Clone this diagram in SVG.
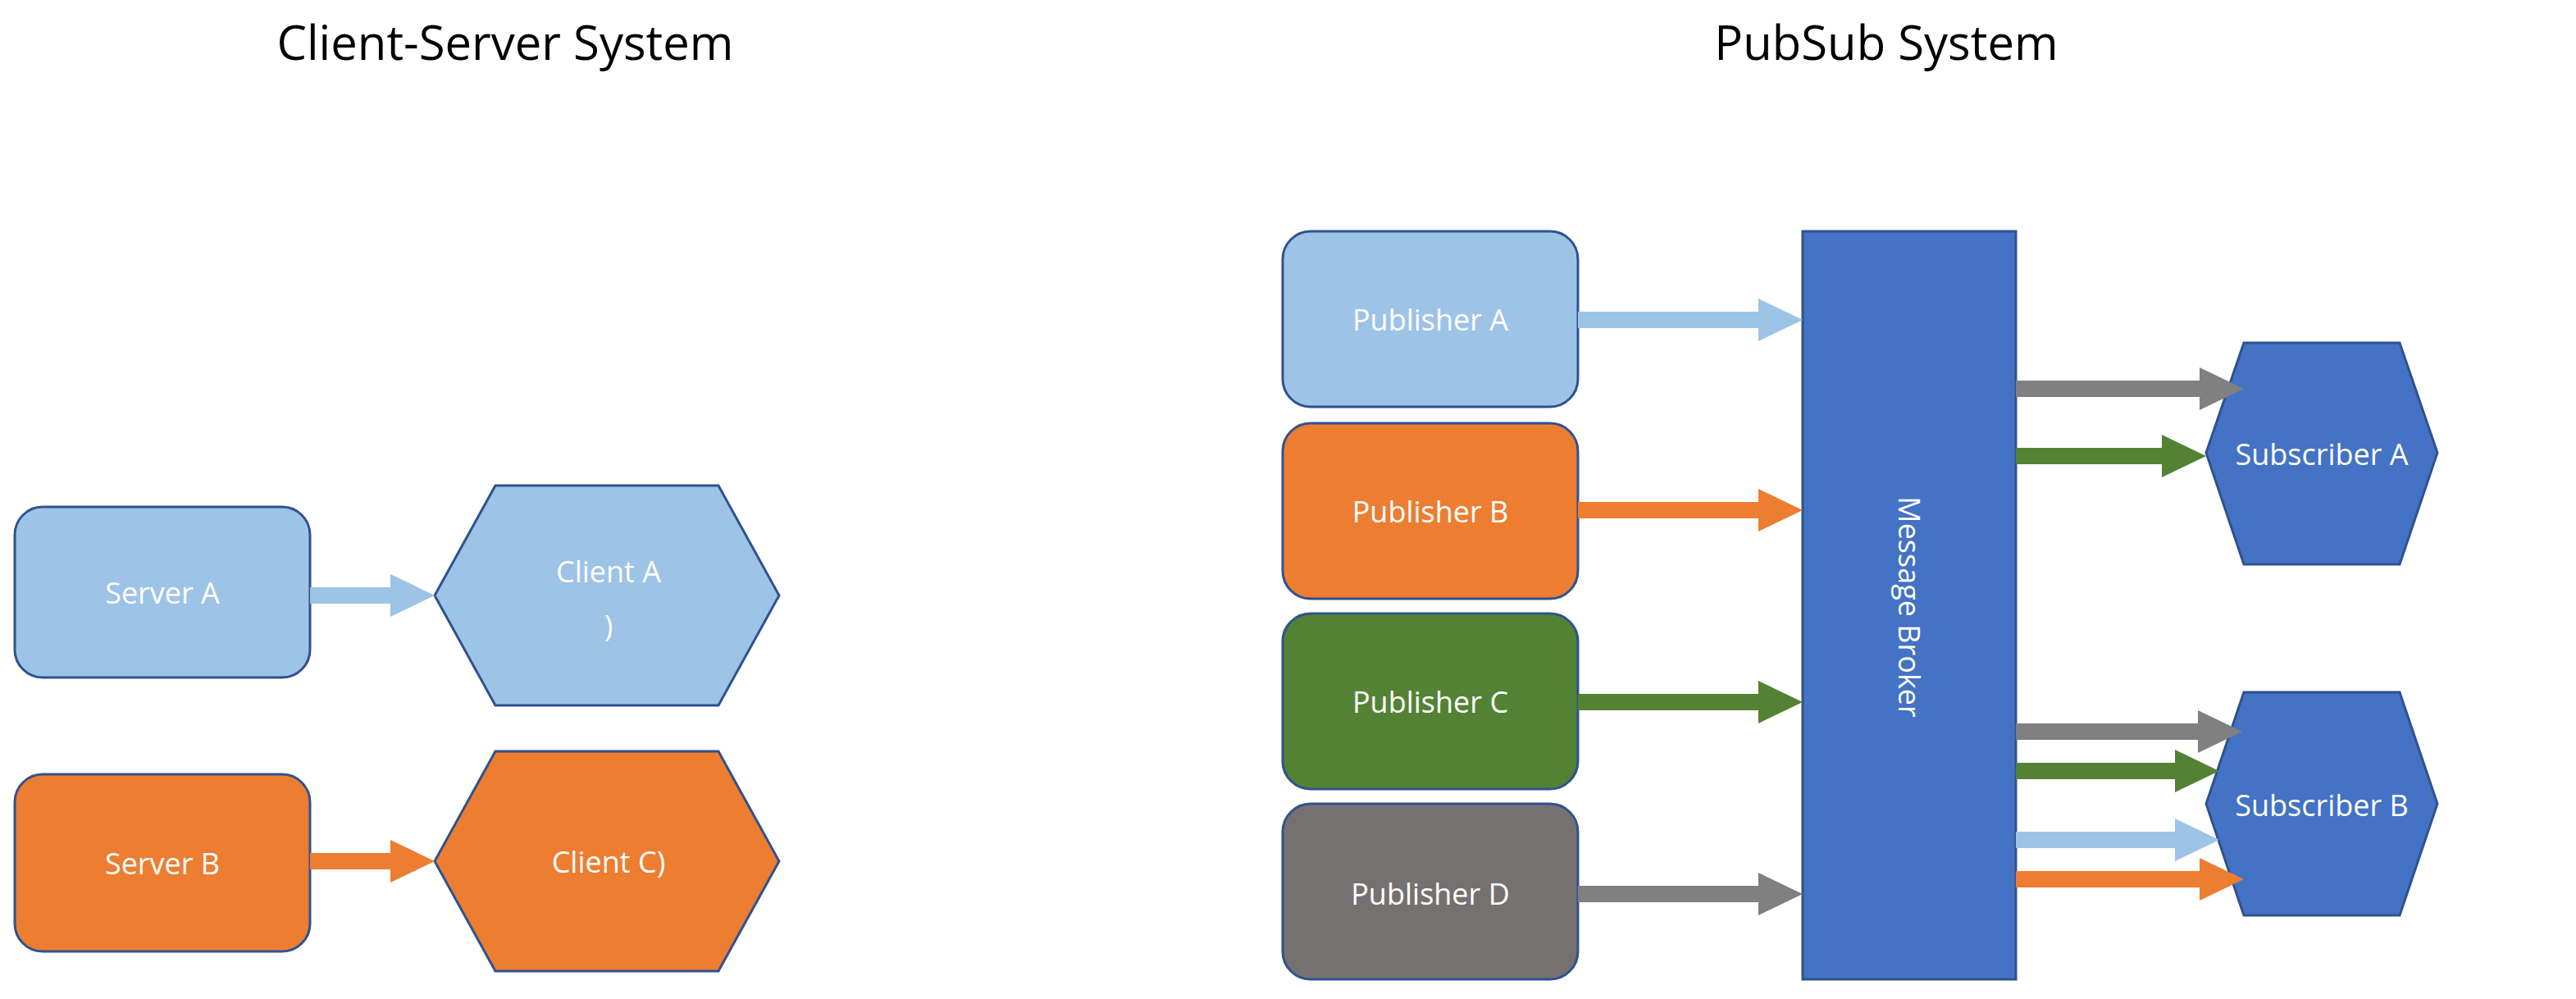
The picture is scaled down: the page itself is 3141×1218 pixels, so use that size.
<svg xmlns="http://www.w3.org/2000/svg" width="3141" height="1218" viewBox="0 0 3141 1218">
<style>
text{font-family:"Open Sans","Liberation Sans",sans-serif;fill:#fff;text-anchor:middle;dominant-baseline:central;font-size:36px}
.title{fill:#000;font-size:58px}
.n{stroke:#2F528F;stroke-width:3}
.lb{fill:#9DC3E6}.or{fill:#ED7D31}.gr{fill:#548235}.gy{fill:#767171}.bl{fill:#4472C4}.ag{fill:#808080}
</style>
<rect width="3141" height="1218" fill="#fff"/>
<text class="title" x="616" y="50">Client-Server System</text>
<text class="title" x="2300" y="50">PubSub System</text>
<g id="serverA"><rect class="n lb" x="18" y="618" width="360" height="208" rx="34"/><text x="198" y="722">Server A</text></g>
<g id="clientA"><polygon class="n lb" points="530,726 604,592 876,592 950,726 876,860 604,860"/><text x="742" y="696">Client A</text><text x="742" y="762">)</text></g>
<g id="serverB"><rect class="n or" x="18" y="944" width="360" height="216" rx="34"/><text x="198" y="1052">Server B</text></g>
<g id="clientC"><polygon class="n or" points="530,1050 604,916 876,916 950,1050 876,1184 604,1184"/><text x="742" y="1050">Client C)</text></g>
<g id="pubA"><rect class="n lb" x="1564" y="282" width="360" height="214" rx="34"/><text x="1744" y="389">Publisher A</text></g>
<g id="pubB"><rect class="n or" x="1564" y="516" width="360" height="214" rx="34"/><text x="1744" y="623">Publisher B</text></g>
<g id="pubC"><rect class="n gr" x="1564" y="748" width="360" height="214" rx="34"/><text x="1744" y="855">Publisher C</text></g>
<g id="pubD"><rect class="n gy" x="1564" y="980" width="360" height="214" rx="34"/><text x="1744" y="1089">Publisher D</text></g>
<g id="broker"><rect class="n bl" x="2198" y="282" width="260" height="912"/><text transform="translate(2328 740) rotate(90)">Message Broker</text></g>
<g id="subA"><polygon class="n bl" points="2690,552 2736,418 2926,418 2972,552 2926,688 2736,688"/><text x="2831" y="553">Subscriber A</text></g>
<g id="subB"><polygon class="n bl" points="2690,980 2736,844 2926,844 2972,980 2926,1116 2736,1116"/><text x="2831" y="981">Subscriber B</text></g>
<g id="connectors">
<polygon class="lb" points="378,716 476,716 476,700 530,726 476,752 476,736 378,736"/>
<polygon class="or" points="378,1040 476,1040 476,1024 530,1050 476,1076 476,1060 378,1060"/>
<polygon class="lb" points="1924,380 2144,380 2144,364 2198,390 2144,416 2144,400 1924,400"/>
<polygon class="or" points="1924,612 2144,612 2144,596 2198,622 2144,648 2144,632 1924,632"/>
<polygon class="gr" points="1924,846 2144,846 2144,830 2198,856 2144,882 2144,866 1924,866"/>
<polygon class="ag" points="1924,1080 2144,1080 2144,1064 2198,1090 2144,1116 2144,1100 1924,1100"/>
<polygon class="ag" points="2458,464 2682,464 2682,448 2736,474 2682,500 2682,484 2458,484"/>
<polygon class="gr" points="2458,546 2636,546 2636,530 2690,556 2636,582 2636,566 2458,566"/>
<polygon class="ag" points="2458,882 2680,882 2680,866 2734,892 2680,918 2680,902 2458,902"/>
<polygon class="gr" points="2458,930 2652,930 2652,914 2706,940 2652,966 2652,950 2458,950"/>
<polygon class="lb" points="2458,1014 2652,1014 2652,998 2706,1024 2652,1050 2652,1034 2458,1034"/>
<polygon class="or" points="2458,1062 2682,1062 2682,1046 2736,1072 2682,1098 2682,1082 2458,1082"/>
</g>
</svg>
